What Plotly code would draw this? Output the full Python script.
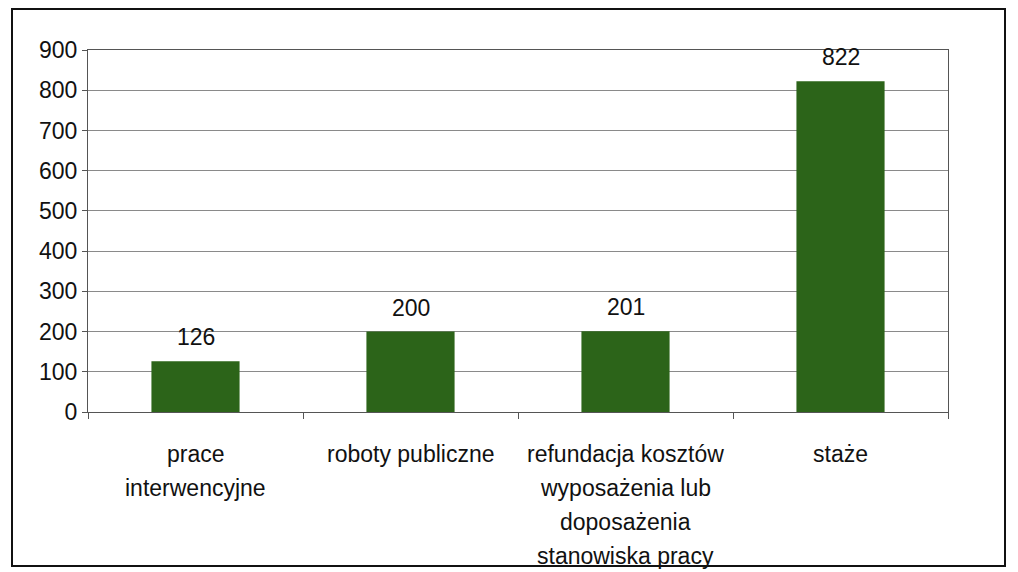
import plotly.graph_objects as go

categories = ["prace interwencyjne", "roboty publiczne",
              "refundacja kosztów wyposażenia lub doposażenia stanowiska pracy", "staże"]
label_lines = [["prace", "interwencyjne"], ["roboty publiczne"],
               ["refundacja kosztów", "wyposażenia lub", "doposażenia", "stanowiska pracy"],
               ["staże"]]
values = [126, 200, 201, 822]
y_ticks = [0, 100, 200, 300, 400, 500, 600, 700, 800, 900]

W, H = 1018, 572
ML, MR, MT, MB = 88, 70, 50, 160
PW, PH = W - ML - MR, H - MT - MB
FONT = dict(family="Liberation Sans, Arial, sans-serif", size=23, color="#111111")

fig = go.Figure(go.Bar(
    x=categories, y=values,
    marker=dict(color="#2c6419", line=dict(width=0)),
    hoverinfo="x+y",
))

annotations = []
for c, v in zip(categories, values):
    annotations.append(dict(x=c, y=v, xref="x", yref="y", text=str(v), showarrow=False,
                            yanchor="middle", yshift=24, font=FONT))
for c, lines in zip(categories, label_lines):
    for i, ln in enumerate(lines):
        annotations.append(dict(x=c, y=0, xref="x", yref="y", text=ln, showarrow=False,
                                yanchor="middle", yshift=-(42 + 34 * i), font=FONT))

fig.update_layout(
    width=W, height=H,
    margin=dict(l=ML, r=MR, t=MT, b=MB, pad=0),
    paper_bgcolor="white", plot_bgcolor="white",
    bargap=0.59,
    showlegend=False,
    font=FONT,
    annotations=annotations,
    shapes=[dict(type="rect", xref="paper", yref="paper",
                 x0=(12 - ML) / PW, x1=(1005 - ML) / PW,
                 y0=(MT + PH - 566) / PH, y1=(MT + PH - 9) / PH,
                 line=dict(color="#111111", width=2), fillcolor="rgba(0,0,0,0)", layer="below")],
)
fig.update_xaxes(type="category", showticklabels=False, ticks="outside", tickson="boundaries",
                 ticklen=6, tickcolor="#555555", showline=True, linecolor="#555555", linewidth=1,
                 mirror=True, showgrid=False)
fig.update_yaxes(range=[0, 900], tickvals=y_ticks, ticks="outside", ticklen=5, tickcolor="#555555",
                 showline=True, linecolor="#555555", linewidth=1, mirror=True,
                 showgrid=True, gridcolor="#8a8a8a", gridwidth=1, zeroline=False,
                 tickfont=FONT)

fig.write_html("out.html", config={"displayModeBar": False},
               post_script="document.body.style.margin='0';document.body.style.overflow='hidden';")
